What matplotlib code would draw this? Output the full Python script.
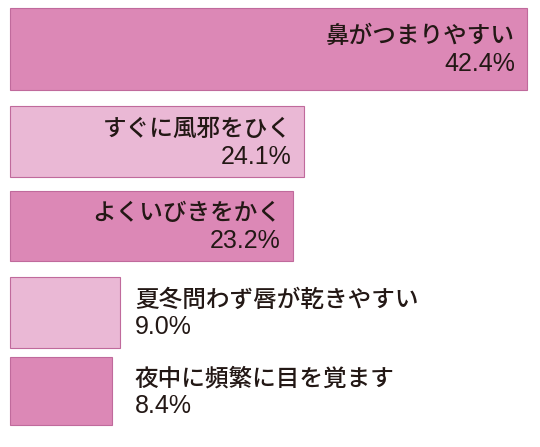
import matplotlib.pyplot as plt

plt.rcParams['font.family'] = ['Noto Sans CJK JP', 'DejaVu Sans']

labels = ['鼻がつまりやすい', 'すぐに風邪をひく', 'よくいびきをかく', '夏冬問わず唇が乾きやすい', '夜中に頻繁に目を覚ます']
values = [42.4, 24.1, 23.2, 9.0, 8.4]
colors = ['#dc88b6', '#eab8d5', '#dc88b6', '#eab8d5', '#dc88b6']

# bar rows in pixel space (top, bottom)
rows = [(8, 90), (106, 177), (191, 261), (277, 348), (357, 425)]
px = 517 / 42.4

fig = plt.figure(figsize=(5.4, 4.47), dpi=100)
ax = fig.add_axes([0, 0, 1, 1])
ax.set_xlim(-10 / px, 530 / px)
ax.set_ylim(447, 0)
ax.axis('off')

for lab, v, c, (t, b) in zip(labels, values, colors, rows):
    ax.barh((t + b) / 2, v, height=b - t, left=0, color=c,
            edgecolor='#c06a9c', linewidth=0.8)
    mid = (t + b) / 2
    if v > 15:
        x0, ha = v - 12 / px, 'right'
    else:
        x0, ha = 125 / px, 'left'
    ax.text(x0, mid - 1, lab, ha=ha, va='bottom', fontsize=17,
            fontweight='medium', color='#231815')
    ax.text(x0, mid + 3, f'{v}%', ha=ha, va='top', fontsize=18,
            family=['Liberation Sans'], color='#231815')

fig.savefig('out.png', dpi=100)
